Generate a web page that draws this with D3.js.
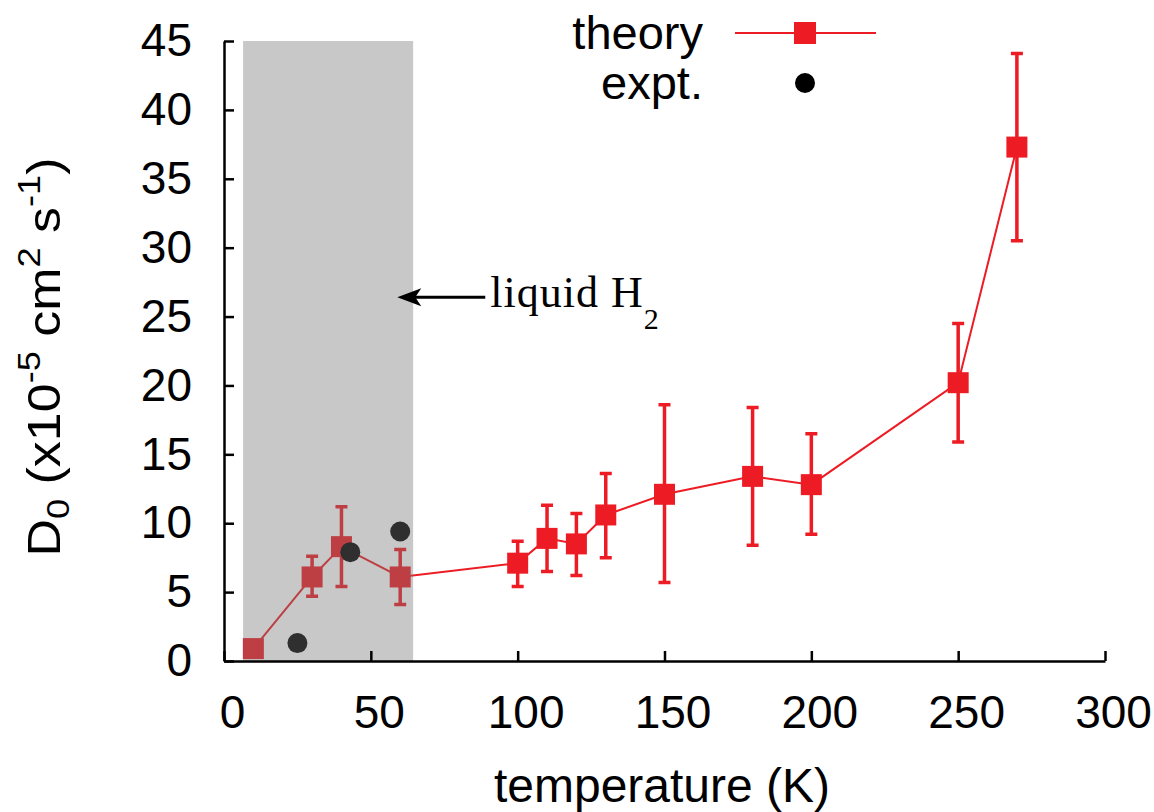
<!DOCTYPE html>
<html>
<head>
<meta charset="utf-8">
<script src="https://cdn.jsdelivr.net/npm/d3@7"></script>
<style>
body { margin: 0; background: #fff; }
text { font-family: "Liberation Sans", Arial, Helvetica, sans-serif; fill: #000; }
</style>
</head>
<body>
<div id="chart"></div>
<script>
// theory: temperature (K), D0 and the error bar ends
const temps = [10, 30, 40, 60, 100, 110, 120, 130, 150, 180, 200, 250, 270]
const theory = [0.9, 6.1, 8.3, 6.1, 7.1, 8.9, 8.5, 10.6, 12.1, 13.4, 12.8, 20.2, 37.3]
const errLow = [0.9, 4.7, 5.4, 4.1, 5.4, 6.5, 6.2, 7.5, 5.7, 8.4, 9.2, 15.9, 30.5]
const errHigh = [0.9, 7.6, 11.2, 8.1, 8.7, 11.3, 10.7, 13.6, 18.6, 18.4, 16.5, 24.5, 44.1]

// experiment
const exptTemps = [25, 43, 60]
const expt = [1.3, 7.9, 9.4]

const xTicks = [0, 50, 100, 150, 200, 250, 300]
const yTicks = [0, 5, 10, 15, 20, 25, 30, 35, 40, 45]

// liquid H2 band and arrow (temperature, D0)
const liquidRange = [6.5, 64.4]
const arrowAt = [59, 26.4]

const w = 1154
const h = 812
const red = "#ed1c24"

const xScale = d3.scaleLinear().domain([0, 300]).range([224, 1105])
const yScale = d3.scaleLinear().domain([0, 45]).range([661, 41])

const svg = d3.select("#chart")
    .append("svg")
    .attr("width", w)
    .attr("height", h)

const points = temps.map((t, i) => ({ t: t, d: theory[i], lo: errLow[i], hi: errHigh[i] }))

// connecting line
const line = d3.line()
    .x(d => xScale(d.t))
    .y(d => yScale(d.d))

svg.append("path")
    .datum(points)
    .attr("d", line)
    .attr("fill", "none")
    .attr("stroke", red)
    .attr("stroke-width", 2)

// error bars
const bars = svg.append("g")
    .attr("stroke", red)
    .attr("stroke-width", 3.5)

bars.selectAll(".err")
    .data(points.filter(d => d.hi > d.lo))
    .enter()
    .append("path")
    .attr("class", "err")
    .attr("fill", "none")
    .attr("d", d => {
        const x = xScale(d.t), y1 = yScale(d.hi), y2 = yScale(d.lo)
        return `M${x},${y1}V${y2}M${x - 6},${y1}H${x + 6}M${x - 6},${y2}H${x + 6}`
    })

// square markers
svg.selectAll(".sq")
    .data(points)
    .enter()
    .append("rect")
    .attr("class", "sq")
    .attr("x", d => xScale(d.t) - 10.5)
    .attr("y", d => yScale(d.d) - 10.5)
    .attr("width", 21)
    .attr("height", 21)
    .attr("fill", red)

// experiment dots
svg.selectAll(".dot")
    .data(exptTemps.map((t, i) => ({ t: t, d: expt[i] })))
    .enter()
    .append("circle")
    .attr("class", "dot")
    .attr("cx", d => xScale(d.t))
    .attr("cy", d => yScale(d.d))
    .attr("r", 10)
    .attr("fill", "#000")

// grey band laid over the marks
svg.append("rect")
    .attr("x", xScale(liquidRange[0]))
    .attr("y", yScale(45))
    .attr("width", xScale(liquidRange[1]) - xScale(liquidRange[0]))
    .attr("height", yScale(0) - yScale(45))
    .attr("fill", "rgb(117,118,117)")
    .attr("fill-opacity", 0.4)

// axes
const xAxis = d3.axisBottom(xScale)
    .tickValues(xTicks)
    .tickSizeInner(-10)
    .tickSizeOuter(0)
    .tickPadding(34)

const yAxis = d3.axisLeft(yScale)
    .tickValues(yTicks)
    .tickSizeInner(-10)
    .tickSizeOuter(0)
    .tickPadding(32)

const gx = svg.append("g")
    .attr("transform", "translate(0," + yScale(0) + ")")
    .call(xAxis)

const gy = svg.append("g")
    .attr("transform", "translate(" + xScale(0) + ",0)")
    .call(yAxis)

for (const g of [gx, gy]) {
    g.selectAll("path, line").attr("stroke", "#000").attr("stroke-width", 2.5)
    g.selectAll("text")
        .style("font-family", '"Liberation Sans", Arial, sans-serif')
        .style("font-size", "46px")
        .attr("fill", "#000")
}
gx.selectAll("text").attr("dx", 8)

// axis titles
svg.append("text")
    .attr("x", 662)
    .attr("y", 802)
    .attr("text-anchor", "middle")
    .style("font-size", "48px")
    .text("temperature (K)")

const yl = svg.append("text")
    .attr("transform", "translate(60,357) rotate(-90) scale(1.13,1)")
    .attr("text-anchor", "middle")
    .style("font-size", "46px")
yl.append("tspan").text("D")
yl.append("tspan").attr("dy", 9).style("font-size", "32px").text("0")
yl.append("tspan").attr("dy", -9).text(" (x10")
yl.append("tspan").attr("dy", -20).style("font-size", "32px").text("-5")
yl.append("tspan").attr("dy", 20).text(" cm")
yl.append("tspan").attr("dy", -20).style("font-size", "32px").text("2")
yl.append("tspan").attr("dy", 20).text(" s")
yl.append("tspan").attr("dy", -20).style("font-size", "32px").text("-1")
yl.append("tspan").attr("dy", 20).text(")")

// liquid H2 annotation
const ax = xScale(arrowAt[0]), ay = yScale(arrowAt[1])
svg.append("line")
    .attr("x1", ax + 16)
    .attr("x2", ax + 88)
    .attr("y1", ay)
    .attr("y2", ay)
    .attr("stroke", "#000")
    .attr("stroke-width", 3)
svg.append("path")
    .attr("d", `M${ax},${ay}L${ax + 24},${ay - 9}L${ax + 18},${ay}L${ax + 24},${ay + 9}Z`)
    .attr("fill", "#000")

const ann = svg.append("text")
    .attr("x", ax + 93)
    .attr("y", ay + 10)
    .style("font-family", '"Liberation Serif", "Times New Roman", serif')
    .style("font-size", "44px")
ann.append("tspan").style("letter-spacing", "1px").text("liquid H")
ann.append("tspan").attr("dy", 22).style("font-size", "30px").text("2")

// legend
const legend = svg.append("g")
legend.append("text")
    .attr("x", 703).attr("y", 49)
    .attr("text-anchor", "end")
    .style("font-size", "47px")
    .text("theory")
legend.append("text")
    .attr("x", 703).attr("y", 99)
    .attr("text-anchor", "end")
    .style("font-size", "47px")
    .text("expt.")
legend.append("line")
    .attr("x1", 735).attr("x2", 876)
    .attr("y1", 33).attr("y2", 33)
    .attr("stroke", red)
    .attr("stroke-width", 2)
legend.append("rect")
    .attr("x", 805 - 11).attr("y", 33 - 11)
    .attr("width", 22).attr("height", 22)
    .attr("fill", red)
legend.append("circle")
    .attr("cx", 805).attr("cy", 83)
    .attr("r", 10)
    .attr("fill", "#000")
</script>
</body>
</html>
